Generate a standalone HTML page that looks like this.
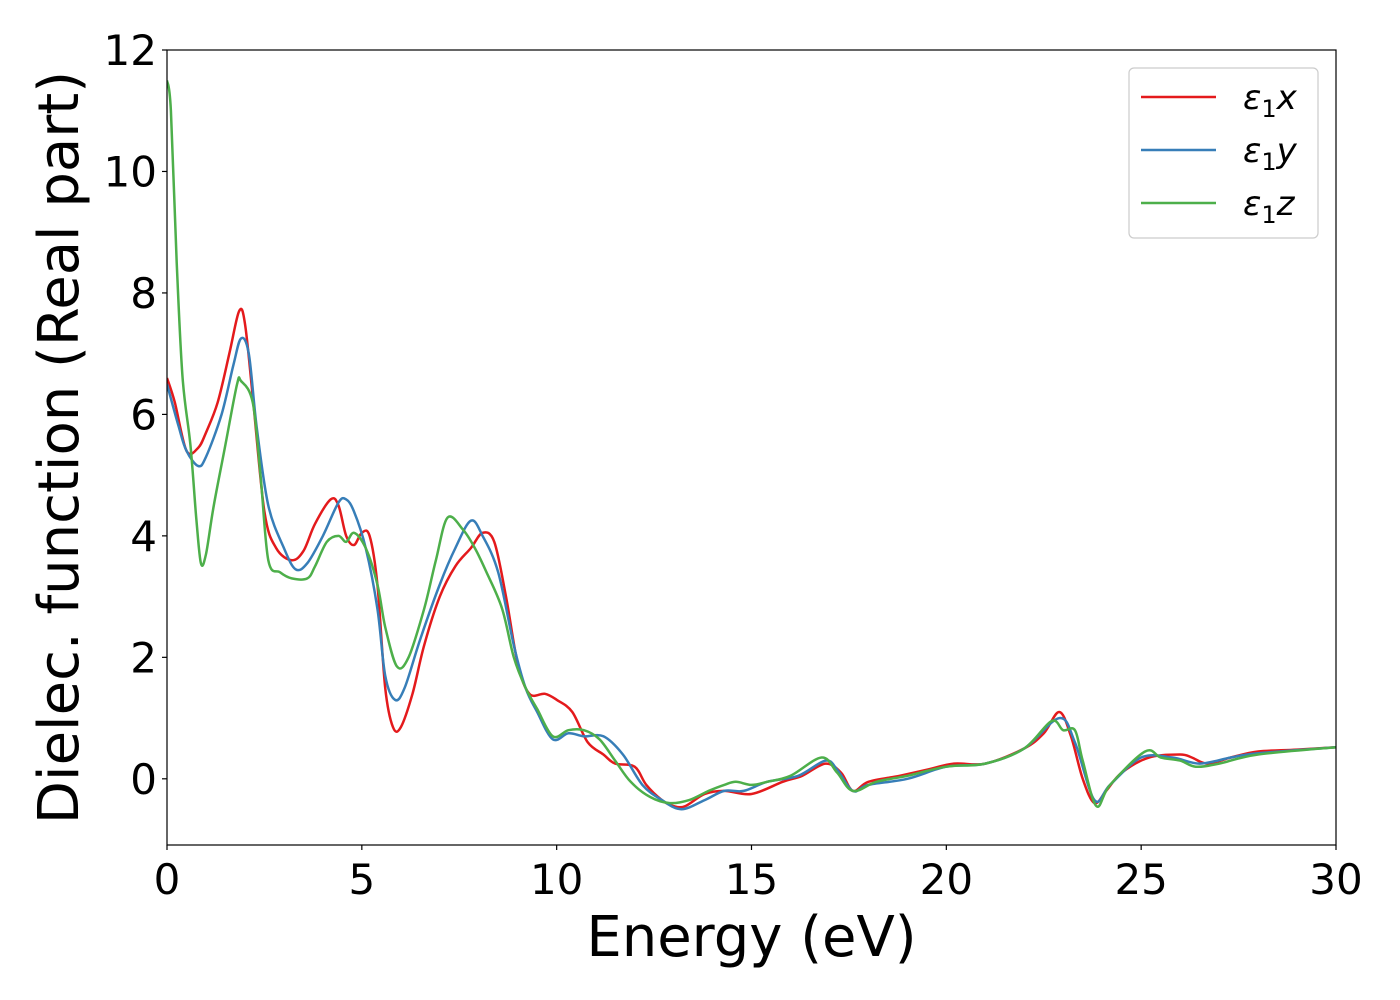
<!DOCTYPE html>
<html><head><meta charset="utf-8">
<style>
body{margin:0;background:#fff;}
svg{display:block;font-family:"DejaVu Sans","Liberation Sans",sans-serif;}
</style></head>
<body>
<svg id="chart" width="1400" height="1000" viewBox="0 0 1400 1000" xmlns="http://www.w3.org/2000/svg">
<g id="plot"></g>
</svg>
<script>
const xTicks=[0,5,10,15,20,25,30];
const yTicks=[0,2,4,6,8,10,12];
const seriesNames=["x","y","z"];
const seriesColors=["#e41a1c","#377eb8","#4daf4a"];
const redX=[0,0.2,0.5,0.8,1.0,1.3,1.6,1.85,2.0,2.2,2.5,2.8,3.2,3.5,3.8,4.2,4.4,4.6,4.8,5.0,5.2,5.4,5.6,5.8,6.0,6.3,6.6,7.0,7.4,7.8,8.1,8.4,8.7,9.0,9.3,9.7,10.0,10.4,10.8,11.2,11.5,12.0,12.3,12.7,13.0,13.3,13.8,14.3,15.0,15.8,16.3,16.9,17.3,17.6,18.0,18.8,19.5,20.2,21.0,22.0,22.5,22.9,23.2,23.5,23.8,24.1,24.5,25.2,26.0,26.3,26.7,27.3,28,29,30];
const redY=[6.6,6.2,5.4,5.45,5.7,6.2,7.0,7.7,7.5,6.3,4.4,3.8,3.6,3.75,4.2,4.6,4.5,4.0,3.85,4.05,4.0,3.2,1.5,0.85,0.85,1.4,2.2,3.0,3.5,3.8,4.05,3.9,3.0,1.9,1.4,1.4,1.3,1.1,0.6,0.4,0.25,0.2,-0.1,-0.35,-0.45,-0.45,-0.25,-0.2,-0.25,-0.05,0.05,0.25,0.1,-0.2,-0.05,0.05,0.15,0.25,0.25,0.5,0.75,1.1,0.7,0.0,-0.4,-0.2,0.1,0.35,0.4,0.35,0.25,0.35,0.45,0.48,0.52];
const blueX=[0,0.3,0.5,0.8,1.0,1.4,1.7,1.9,2.1,2.3,2.6,3.0,3.3,3.6,4.0,4.4,4.6,4.8,5.1,5.4,5.6,5.85,6.1,6.5,7.0,7.4,7.8,8.1,8.5,8.9,9.2,9.5,9.9,10.3,10.7,11.2,11.7,12.2,12.7,13.2,13.8,14.3,14.8,15.4,16.2,16.9,17.2,17.6,18.0,19.0,20.0,21.0,22.0,22.9,23.3,23.8,24.2,25.0,25.8,26.5,27.3,28,30];
const blueY=[6.5,5.8,5.4,5.15,5.3,6.0,6.8,7.25,7.0,5.8,4.5,3.8,3.45,3.55,4.0,4.55,4.6,4.4,3.8,2.8,1.7,1.3,1.5,2.3,3.2,3.8,4.25,4.0,3.4,2.2,1.5,1.1,0.65,0.75,0.7,0.7,0.4,-0.1,-0.35,-0.5,-0.35,-0.2,-0.2,-0.05,0.05,0.3,0.15,-0.2,-0.1,0.0,0.2,0.25,0.5,1.0,0.6,-0.35,-0.1,0.35,0.35,0.25,0.35,0.42,0.52];
const greenX=[0,0.1,0.25,0.4,0.6,0.75,0.87,1.0,1.2,1.5,1.8,1.9,2.2,2.4,2.6,2.9,3.2,3.6,3.8,4.1,4.4,4.6,4.8,5.1,5.4,5.6,5.9,6.2,6.6,6.9,7.2,7.6,7.9,8.2,8.6,8.9,9.2,9.5,9.9,10.3,10.7,11.1,11.5,11.9,12.4,12.9,13.4,13.9,14.3,14.6,15.0,15.4,16.0,16.8,17.2,17.6,18.2,19.0,20.0,21.0,22.0,22.7,23.0,23.3,23.5,23.85,24.2,25.1,25.5,26.0,26.4,27,28,30];
const greenY=[11.5,11.0,8.5,6.6,5.5,4.3,3.55,3.7,4.5,5.5,6.5,6.55,6.2,5.0,3.6,3.4,3.3,3.3,3.5,3.9,4.0,3.9,4.05,3.8,3.2,2.5,1.85,2.0,2.8,3.6,4.3,4.1,3.8,3.4,2.8,2.0,1.5,1.15,0.7,0.8,0.8,0.65,0.3,-0.05,-0.3,-0.4,-0.35,-0.2,-0.1,-0.05,-0.1,-0.05,0.05,0.35,0.1,-0.2,-0.05,0.05,0.2,0.25,0.5,0.95,0.8,0.8,0.3,-0.45,-0.1,0.45,0.35,0.3,0.2,0.25,0.4,0.52];
const allX=[redX,blueX,greenX], allY=[redY,blueY,greenY];

const L=167,R=1336,T=50,B=845;
const xMin=0,xMax=30,yMin=-1.09,yMax=12;
const sx=v=>L+(v-xMin)/(xMax-xMin)*(R-L);
const sy=v=>B-(v-yMin)/(yMax-yMin)*(B-T);
const NS="http://www.w3.org/2000/svg";
const g=document.getElementById('plot');
function mk(t,a,p){const e=document.createElementNS(NS,t);for(const k in a)e.setAttribute(k,a[k]);(p||g).appendChild(e);return e;}
function smooth(pts){let d="M"+pts[0][0]+","+pts[0][1];
 for(let i=0;i<pts.length-1;i++){const p0=pts[Math.max(0,i-1)],p1=pts[i],p2=pts[i+1],p3=pts[Math.min(pts.length-1,i+2)];
  const c1=[p1[0]+(p2[0]-p0[0])/6,p1[1]+(p2[1]-p0[1])/6],c2=[p2[0]-(p3[0]-p1[0])/6,p2[1]-(p3[1]-p1[1])/6];
  d+=" C"+c1[0].toFixed(1)+","+c1[1].toFixed(1)+" "+c2[0].toFixed(1)+","+c2[1].toFixed(1)+" "+p2[0].toFixed(1)+","+p2[1].toFixed(1);}
 return d;}
const defs=mk('defs',{});const cp=mk('clipPath',{id:'clip'},defs);mk('rect',{x:L,y:T,width:R-L,height:B-T},cp);
for(let s=0;s<3;s++){
 const pts=allX[s].map((x,i)=>[sx(x),sy(allY[s][i])]);
 const p=mk('path',{d:smooth(pts),fill:'none',stroke:seriesColors[s],'stroke-width':2.5,'clip-path':'url(#clip)'});
 
 
}
const fr=mk('rect',{x:L,y:T,width:R-L,height:B-T,fill:'none',stroke:'#000','stroke-width':1.2});

xTicks.forEach(v=>{const x=sx(v);mk('line',{x1:x,x2:x,y1:B,y2:B+5,stroke:'#000','stroke-width':1.2});
 const t=mk('text',{x:x,y:B+49,'text-anchor':'middle','font-size':42});t.textContent=v;
 });
yTicks.forEach(v=>{const y=sy(v);mk('line',{x1:L-5,x2:L,y1:y,y2:y,stroke:'#000','stroke-width':1.2});
 const t=mk('text',{x:L-10,y:y+15,'text-anchor':'end','font-size':42});t.textContent=v;
 });
const xl=mk('text',{x:(L+R)/2,y:956,'text-anchor':'middle','font-size':56});xl.textContent='Energy (eV)';

const yl=mk('text',{x:78,y:(T+B)/2,'text-anchor':'middle','font-size':56,transform:'rotate(-90 78 '+((T+B)/2)+')'});yl.textContent='Dielec. function (Real part)';

const lg=mk('g',{});
mk('rect',{x:1129,y:68,width:189,height:170,rx:5,fill:'#fff',stroke:'#ccc','stroke-width':1.2},lg);
for(let s=0;s<3;s++){const y=97+s*53;
 const e=mk('g',{},lg);
 mk('line',{x1:1141,x2:1216,y1:y,y2:y,stroke:seriesColors[s],'stroke-width':2.5},e);
 const t=mk('text',{x:1243,y:y+12,'font-size':34,'font-style':'italic'},e);
 t.innerHTML='ε<tspan font-style="normal" font-size="24" dy="8">1</tspan><tspan dy="-8">'+seriesNames[s]+'</tspan>';}
</script>
</body></html>
